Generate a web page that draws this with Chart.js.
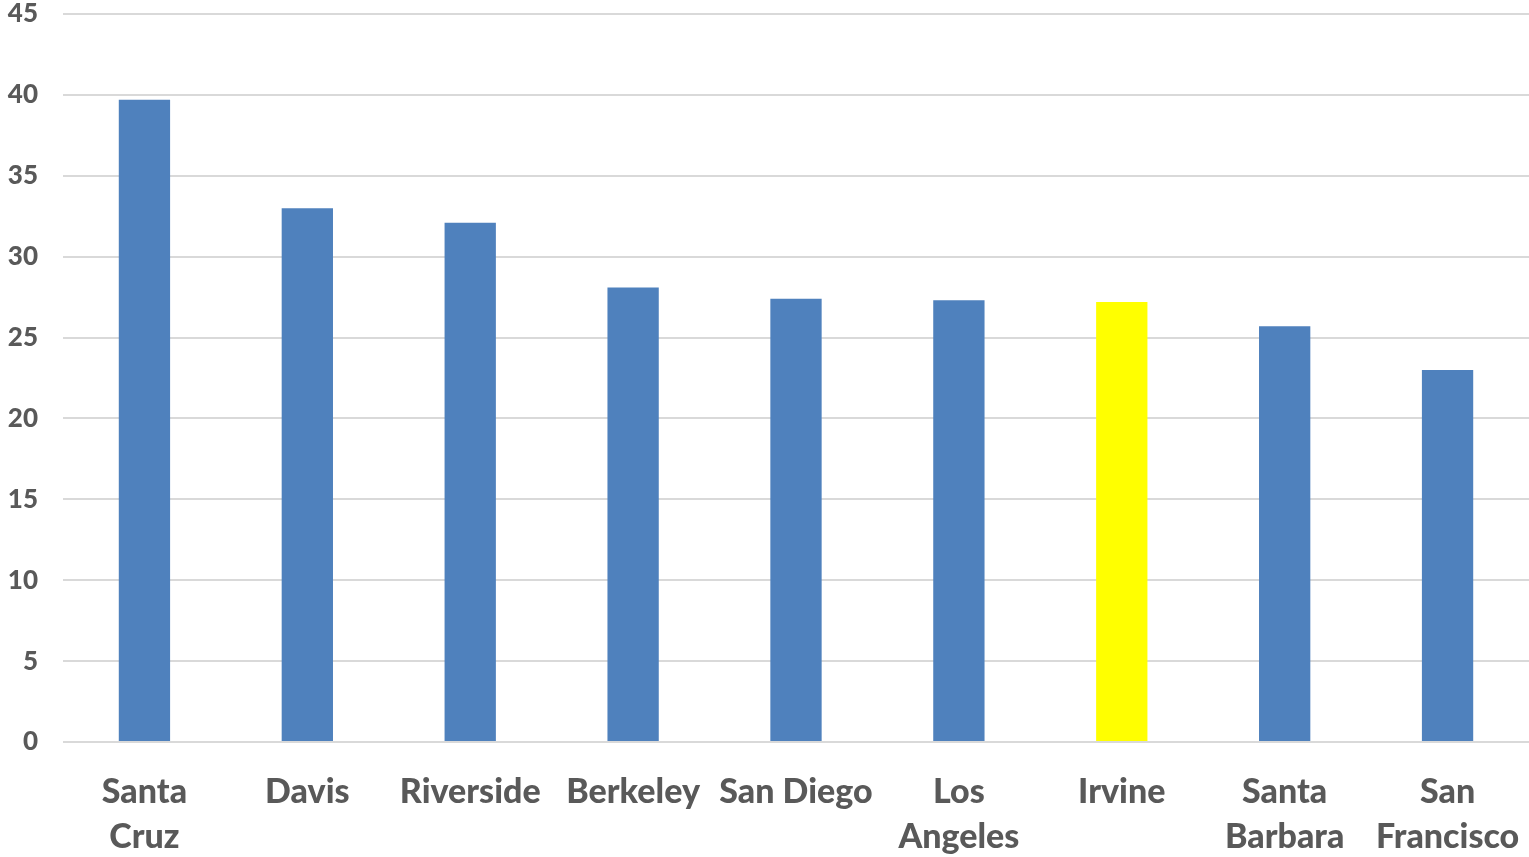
<!DOCTYPE html>
<html>
<head>
<meta charset="utf-8">
<script src="https://cdn.jsdelivr.net/npm/chart.js@4/dist/chart.umd.min.js"></script>
<style>
  html, body { margin: 0; padding: 0; background: #ffffff; }
  #wrap { width: 1529px; height: 857px; }
</style>
</head>
<body>
<div id="wrap"><canvas id="c" width="1529" height="857"></canvas></div>
<script>
// Campuses, in the order shown
const campuses = [
  ["Santa", "Cruz"], "Davis", "Riverside", "Berkeley", "San Diego",
  ["Los", "Angeles"], "Irvine", ["Santa", "Barbara"], ["San", "Francisco"]
];
const values = [39.7, 33.0, 32.1, 28.1, 27.4, 27.3, 27.2, 25.7, 23.0];
const highlighted = "Irvine";
const yTicks = [0, 5, 10, 15, 20, 25, 30, 35, 40, 45];

const blue = "#4F81BD";
const yellow = "#FFFF00";
const textGray = "#595959";

const barColors = campuses.map(c => (c === highlighted ? yellow : blue));

new Chart(document.getElementById("c"), {
  type: "bar",
  data: {
    labels: campuses,
    datasets: [{
      data: values,
      backgroundColor: barColors,
      borderWidth: 0,
      barPercentage: 0.315,
      categoryPercentage: 1.0
    }]
  },
  options: {
    responsive: false,
    animation: false,
    devicePixelRatio: 1,
    layout: { padding: { top: 14, right: 0, bottom: 0, left: 0 } },
    plugins: {
      legend: { display: false },
      tooltip: { enabled: false }
    },
    scales: {
      x: {
        grid: { display: false },
        border: { display: false },
        ticks: {
          color: textGray,
          font: { family: "Lato", size: 34, weight: "900", lineHeight: 1.32 },
          padding: 20,
          maxRotation: 0,
          autoSkip: false
        },
        afterFit: s => {
          s.height = 115;
          s.paddingLeft = 0;
          s.paddingRight = 0;
        }
      },
      y: {
        min: 0,
        max: 45,
        afterBuildTicks: s => { s.ticks = yTicks.map(v => ({ value: v })); },
        grid: { color: "#D9D9D9", lineWidth: 2, drawTicks: false },
        border: { display: false },
        ticks: {
          color: textGray,
          font: { family: "Lato", size: 26, weight: "900" },
          padding: 25
        },
        afterFit: s => {
          s.width = 63;
          s.paddingTop = 0;
          s.paddingBottom = 0;
        }
      }
    }
  }
});
</script>
</body>
</html>
